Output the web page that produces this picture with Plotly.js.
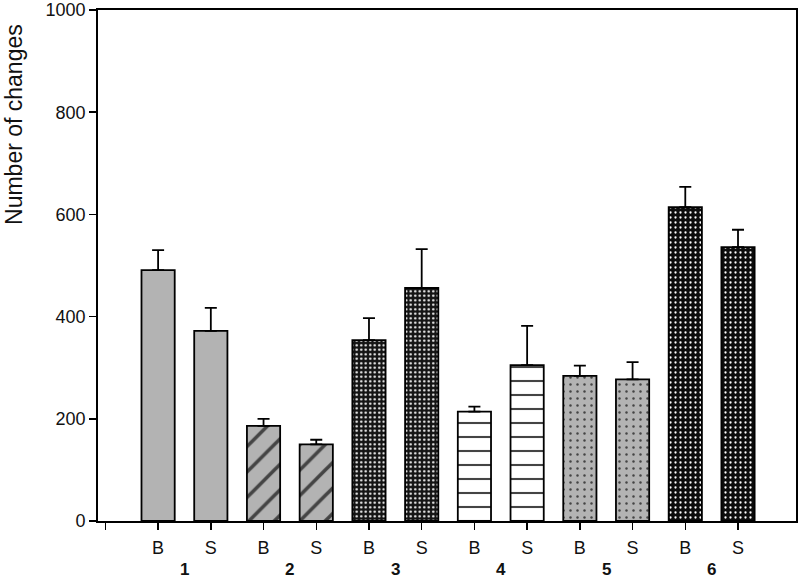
<!DOCTYPE html>
<html>
<head>
<meta charset="utf-8">
<script src="https://cdn.plot.ly/plotly-3.0.1.min.js"></script>
<style>html,body{margin:0;padding:0;background:#fff;}#chart{width:800px;height:579px;}</style>
</head>
<body>
<div id="chart"></div>
<script>
// Data
const groups = ["1", "2", "3", "4", "5", "6"];
const barLabels = ["B", "S", "B", "S", "B", "S", "B", "S", "B", "S", "B", "S"];
const values = [491, 372, 186, 150, 354, 456, 214, 305, 284, 277, 614, 536];
const errorsUp = [39, 45, 14, 9, 43, 76, 10, 77, 20, 34, 40, 34];
const yTicks = [0, 200, 400, 600, 800, 1000];

// Styles per group (pattern fills)
const groupStyle = [
  {shape: "",  color: "#b3b3b3", fg: "#000",    size: 8,  solidity: 0.2},
  {shape: "/", color: "#b3b3b3", fg: "#000",    size: 18, solidity: 0.2},
  {shape: ".", color: "#141414", fg: "#dcdcdc", size: 4.5, solidity: 0.22},
  {shape: "-", color: "#ffffff", fg: "#000",    size: 14, solidity: 0.15},
  {shape: ".", color: "#b3b3b3", fg: "#111",    size: 7,  solidity: 0.1},
  {shape: ".", color: "#0d0d0d", fg: "#6e6e6e", size: 5,  solidity: 0.16}
];

const xPos = barLabels.map((_, i) => i);
const gi = barLabels.map((_, i) => Math.floor(i / 2));
const FONT = "Liberation Sans, Arial, sans-serif";

const trace = {
  type: "bar",
  x: xPos,
  y: values,
  width: 0.63,
  marker: {
    color: gi.map(g => groupStyle[g].color),
    line: {color: "#000", width: 1.8},
    pattern: {
      shape: gi.map(g => groupStyle[g].shape),
      fgcolor: gi.map(g => groupStyle[g].fg),
      bgcolor: gi.map(g => groupStyle[g].color),
      size: gi.map(g => groupStyle[g].size),
      solidity: gi.map(g => groupStyle[g].solidity),
      fillmode: "overlay",
      fgopacity: 1
    }
  },
  error_y: {
    type: "data",
    symmetric: false,
    array: errorsUp,
    arrayminus: errorsUp.map(() => 0),
    color: "#000",
    thickness: 1.8,
    width: 6
  },
  hoverinfo: "skip",
  showlegend: false
};

const annotations = groups.map((g, k) => ({
  text: "<b>" + g + "</b>",
  x: 2 * k + 0.5,
  xref: "x",
  y: 0,
  yref: "paper",
  yanchor: "middle",
  yshift: -48,
  showarrow: false,
  borderpad: 0,
  font: {family: FONT, size: 17, color: "#111"}
}));
annotations.push({
  text: "Number of changes",
  xref: "paper", x: 0, xanchor: "center", xshift: -84,
  yref: "paper", y: 0.775, yanchor: "middle",
  textangle: -90,
  showarrow: false,
  font: {family: FONT, size: 23, color: "#111"}
});

const layout = {
  width: 800,
  height: 579,
  margin: {l: 98, r: 4, t: 10, b: 58},
  paper_bgcolor: "#fff",
  plot_bgcolor: "#fff",
  font: {family: FONT, size: 18, color: "#111"},
  xaxis: {
    range: [-1.14, 12.1],
    tickvals: [-1].concat(xPos),
    ticktext: [""].concat(barLabels),
    ticks: "outside",
    ticklen: 7,
    tickwidth: 1.5,
    tickcolor: "#000",
    ticklabelstandoff: 3,
    showline: true,
    linecolor: "#000",
    linewidth: 1.8,
    mirror: true,
    showgrid: false,
    zeroline: false,
    tickfont: {size: 18, color: "#111"}
  },
  yaxis: {
    range: [0, 1000],
    tickvals: yTicks,
    ticks: "outside",
    ticklen: 7,
    tickwidth: 1.5,
    tickcolor: "#000",
    showline: true,
    linecolor: "#000",
    linewidth: 1.8,
    mirror: true,
    showgrid: false,
    zeroline: false,
    tickfont: {size: 18, color: "#111"}
  },
  annotations: annotations
};

Plotly.newPlot("chart", [trace], layout, {staticPlot: true, displayModeBar: false});
</script>
</body>
</html>
